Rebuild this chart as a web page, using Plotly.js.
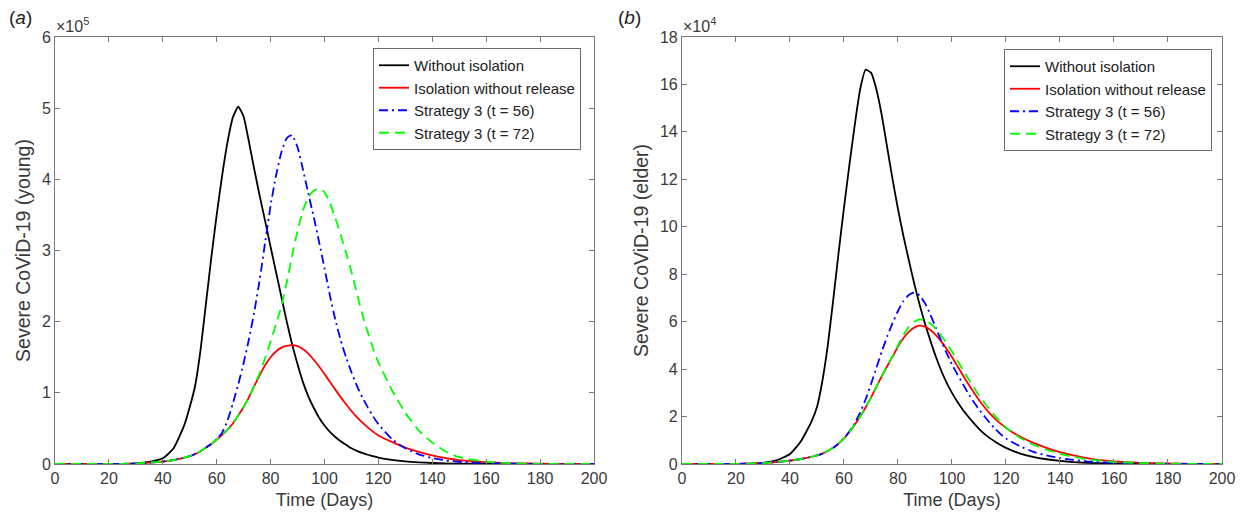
<!DOCTYPE html>
<html><head><meta charset="utf-8">
<script src="https://cdn.plot.ly/plotly-3.0.1.min.js"></script>
<style>html,body{margin:0;padding:0;background:#fff}#chart{width:1244px;height:514px}</style>
</head><body><div id="chart"></div>
<script>
// Time grid (days)
const days = [0,10,20,25,30,35,40,44,48,50,52,54,56,58,60,62,64,66,68,70,72,74,76,78,80,82,84,86,88,90,92,94,96,98,100,102,104,106,108,110,112,114,116,118,120,125,130,135,140,145,150,160,170,180,190,200];

// Panel (a): severe young, units of 1e5
const youngWithout = [0,0,0.001,0.003,0.01,0.03,0.08,0.22,0.55,0.8,1.1,1.6,2.25,2.9,3.5,4.05,4.52,4.87,5.02,4.88,4.52,4.13,3.76,3.41,3.05,2.7,2.35,2.0,1.68,1.4,1.15,0.95,0.79,0.65,0.54,0.45,0.38,0.32,0.27,0.22,0.185,0.155,0.13,0.11,0.09,0.057,0.036,0.023,0.014,0.008,0.005,0.002,0.001,0,0,0];
const youngIsolation = [0,0,0.001,0.003,0.008,0.02,0.035,0.055,0.09,0.11,0.14,0.18,0.23,0.28,0.34,0.41,0.48,0.57,0.68,0.8,0.94,1.1,1.25,1.39,1.5,1.58,1.635,1.66,1.67,1.655,1.615,1.55,1.465,1.37,1.265,1.155,1.045,0.94,0.84,0.745,0.66,0.585,0.515,0.455,0.4,0.31,0.23,0.17,0.12,0.082,0.055,0.025,0.01,0.004,0.001,0];
const youngS56 = [0,0,0.001,0.003,0.008,0.02,0.035,0.055,0.09,0.11,0.14,0.18,0.23,0.28,0.35,0.44,0.61,0.85,1.12,1.42,1.76,2.15,2.6,3.12,3.63,4.05,4.38,4.58,4.62,4.45,4.14,3.8,3.47,3.12,2.75,2.37,2.03,1.74,1.5,1.29,1.1,0.94,0.8,0.67,0.56,0.35,0.22,0.135,0.083,0.05,0.03,0.011,0.004,0.001,0,0];
const youngS72 = [0,0,0.001,0.003,0.008,0.02,0.035,0.055,0.09,0.11,0.14,0.18,0.23,0.28,0.34,0.41,0.48,0.57,0.68,0.8,0.94,1.1,1.28,1.49,1.72,1.96,2.22,2.55,2.93,3.28,3.56,3.75,3.84,3.87,3.82,3.67,3.46,3.22,2.97,2.7,2.4,2.11,1.86,1.63,1.43,1.04,0.72,0.47,0.3,0.175,0.095,0.032,0.011,0.003,0.001,0];

// Panel (b): severe elder, units of 1e4
const elderWithout = [0,0,0.005,0.015,0.05,0.15,0.42,0.95,1.8,2.4,3.5,5.0,6.9,8.9,10.8,12.6,14.3,15.8,16.62,16.5,15.8,14.7,13.35,12.0,10.75,9.62,8.6,7.62,6.72,5.92,5.2,4.53,3.94,3.43,3.0,2.62,2.29,2.0,1.73,1.48,1.27,1.09,0.94,0.8,0.68,0.45,0.3,0.2,0.13,0.08,0.05,0.02,0.008,0.003,0.001,0];
const elderIsolation = [0,0,0.005,0.015,0.04,0.08,0.14,0.21,0.3,0.36,0.44,0.55,0.68,0.86,1.08,1.35,1.66,2.0,2.38,2.8,3.25,3.7,4.12,4.52,4.95,5.3,5.57,5.75,5.83,5.79,5.65,5.44,5.17,4.86,4.51,4.13,3.75,3.38,3.03,2.7,2.4,2.13,1.9,1.7,1.52,1.17,0.9,0.68,0.5,0.36,0.25,0.11,0.05,0.02,0.008,0.003];
const elderS56 = [0,0,0.005,0.015,0.04,0.08,0.14,0.21,0.3,0.36,0.44,0.55,0.68,0.86,1.08,1.37,1.72,2.17,2.72,3.36,4.05,4.74,5.37,5.94,6.45,6.86,7.12,7.22,7.1,6.78,6.3,5.75,5.2,4.68,4.2,3.78,3.38,2.98,2.62,2.3,2.01,1.74,1.48,1.26,1.07,0.76,0.52,0.36,0.25,0.17,0.11,0.045,0.017,0.006,0.002,0];
const elderS72 = [0,0,0.005,0.015,0.04,0.08,0.14,0.21,0.3,0.36,0.44,0.55,0.68,0.86,1.08,1.35,1.66,2.0,2.38,2.8,3.25,3.7,4.12,4.55,5.0,5.43,5.78,6.0,6.1,6.06,5.92,5.7,5.42,5.09,4.74,4.36,3.98,3.6,3.24,2.9,2.58,2.29,2.02,1.77,1.54,1.12,0.82,0.6,0.43,0.3,0.2,0.09,0.04,0.015,0.006,0.002];

const seriesNames = ['Without isolation','Isolation without release','Strategy 3 (t = 56)','Strategy 3 (t = 72)'];
const colors = ['#000000','#ff0000','#0000ff','#00ff00'];
const dashes = ['solid','solid','9px,4px,2px,4px','10px,6px'];

const FONT = 'Liberation Sans, Arial, Helvetica, sans-serif';
const TXT = '#3a3a3a';
const AX = '#7a7a7a';

function mk(y, i, xa, ya, lg) {
  return {x: days, y: y, type: 'scatter', mode: 'lines', name: seriesNames[i],
    xaxis: xa, yaxis: ya, legend: lg, showlegend: true,
    line: {color: colors[i], width: 1.8, dash: dashes[i], shape: 'spline', smoothing: 0.5},
    hoverinfo: 'skip'};
}
const young = [youngWithout, youngIsolation, youngS56, youngS72];
const elder = [elderWithout, elderIsolation, elderS56, elderS72];
const traces = [];
young.forEach((y, i) => traces.push(mk(y, i, 'x', 'y', 'legend')));
elder.forEach((y, i) => traces.push(mk(y, i, 'x2', 'y2', 'legend2')));

function xax(dom, anchor) {
  return {domain: dom, anchor: anchor, range: [0, 200], tickvals: [0,20,40,60,80,100,120,140,160,180,200],
    ticks: 'inside', ticklen: 5, tickcolor: AX, showline: true, linecolor: AX, linewidth: 1, mirror: 'ticks',
    showgrid: false, zeroline: false, automargin: false,
    tickfont: {family: FONT, size: 16, color: TXT},
    title: {text: 'Time (Days)', font: {family: FONT, size: 18, color: TXT}, standoff: 7}};
}
function yax(rng, step, anchor, title) {
  const tv = []; for (let v = rng[0]; v <= rng[1] + 1e-9; v += step) tv.push(v);
  return {domain: [0.0973, 0.928], anchor: anchor, range: rng, tickvals: tv,
    ticks: 'inside', ticklen: 5, tickcolor: AX, showline: true, linecolor: AX, linewidth: 1, mirror: 'ticks',
    showgrid: false, zeroline: false, automargin: false,
    tickfont: {family: FONT, size: 16, color: TXT},
    title: {text: title, font: {family: FONT, size: 19.5, color: TXT}, standoff: 6}};
}
const legendStyle = (xr, yt) => ({x: xr, xanchor: 'right', y: yt, yanchor: 'top', xref: 'paper', yref: 'paper',
  bgcolor: '#ffffff', bordercolor: '#6a6a6a', borderwidth: 1, tracegroupgap: 0,
  font: {family: FONT, size: 15, color: '#222'}, itemwidth: 30});

const layout = {
  width: 1244, height: 514, margin: {l: 0, r: 0, t: 0, b: 0},
  paper_bgcolor: '#fff', plot_bgcolor: '#fff',
  xaxis: xax([0.0442, 0.4775], 'y'),
  yaxis: yax([0, 6], 1, 'x', 'Severe CoViD-19 (young)'),
  xaxis2: xax([0.5482, 0.9823], 'y2'),
  yaxis2: yax([0, 18], 2, 'x2', 'Severe CoViD-19 (elder)'),
  legend: legendStyle(581 / 1244, 1 - 48 / 514),
  legend2: legendStyle(1212 / 1244, 1 - 49 / 514),
  annotations: [
    {text: '(<i>a</i>)', x: 7 / 1244, y: 1 - 18 / 514, xref: 'paper', yref: 'paper', xanchor: 'left', yanchor: 'middle', showarrow: false, font: {family: FONT, size: 19, color: '#222'}},
    {text: '(<i>b</i>)', x: 616 / 1244, y: 1 - 18 / 514, xref: 'paper', yref: 'paper', xanchor: 'left', yanchor: 'middle', showarrow: false, font: {family: FONT, size: 19, color: '#222'}},
    {text: '×10<sup>5</sup>', x: 54 / 1244, y: 0.928, xref: 'paper', yref: 'paper', xanchor: 'left', yanchor: 'bottom', showarrow: false, font: {family: FONT, size: 16, color: TXT}},
    {text: '×10<sup>4</sup>', x: 681 / 1244, y: 0.928, xref: 'paper', yref: 'paper', xanchor: 'left', yanchor: 'bottom', showarrow: false, font: {family: FONT, size: 16, color: TXT}}
  ]
};

Plotly.newPlot('chart', traces, layout, {staticPlot: true});
</script></body></html>
